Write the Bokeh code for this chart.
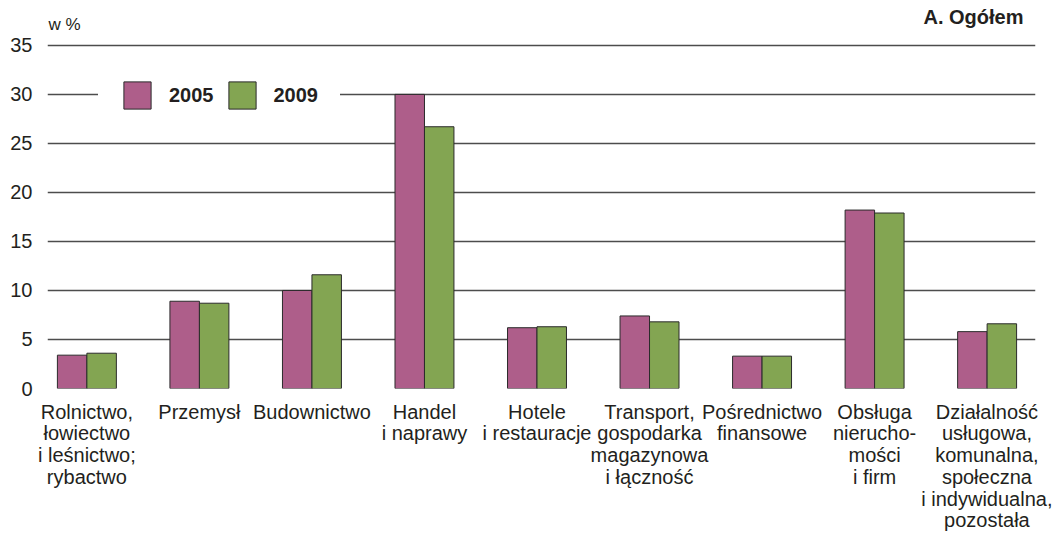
from bokeh.plotting import figure
from bokeh.models import ColumnDataSource, Range1d, FixedTicker, Legend, LegendItem, Label
from bokeh.transform import dodge
from bokeh.embed import file_html
from bokeh.resources import INLINE

categories = [
    "Rolnictwo,\nłowiectwo\ni leśnictwo;\nrybactwo",
    "Przemysł",
    "Budownictwo",
    "Handel\ni naprawy",
    "Hotele\ni restauracje",
    "Transport,\ngospodarka\nmagazynowa\ni łączność",
    "Pośrednictwo\nfinansowe",
    "Obsługa\nnierucho-\nmości\ni firm",
    "Działalność\nusługowa,\nkomunalna,\nspołeczna\ni indywidualna,\npozostała",
]
values_2005 = [3.4, 8.9, 10.0, 30.0, 6.2, 7.4, 3.3, 18.2, 5.8]
values_2009 = [3.6, 8.7, 11.6, 26.7, 6.3, 6.8, 3.3, 17.9, 6.6]
series = ["2005", "2009"]
colors = ["#AE5E8A", "#83A552"]
y_ticks = [0, 5, 10, 15, 20, 25, 30, 35]

idx = list(range(len(categories)))
src = ColumnDataSource(dict(x=idx, v2005=values_2005, v2009=values_2009))

FONT = "Liberation Sans"
TXT = "#231F20"
X0, X1 = -0.35, 8.43
Y_TOP = 38.76

p = figure(width=1052, height=534, output_backend="svg", toolbar_location=None,
           x_range=Range1d(X0, X1), y_range=Range1d(0, Y_TOP),
           min_border_left=47, min_border_right=17, min_border_top=8, min_border_bottom=145)
p.outline_line_color = None
p.background_fill_color = "white"
p.border_fill_color = "white"

bw = 0.262
r1 = p.vbar(x=dodge("x", -bw / 2, range=p.x_range), top="v2005", width=bw, source=src,
            fill_color=colors[0], line_color="#2b2b2b", line_width=1)
r2 = p.vbar(x=dodge("x", bw / 2, range=p.x_range), top="v2009", width=bw, source=src,
            fill_color=colors[1], line_color="#2b2b2b", line_width=1)

# axes
p.xaxis.ticker = FixedTicker(ticks=idx)
p.xaxis.major_label_overrides = {i: c for i, c in zip(idx, categories)}
p.xaxis.axis_line_color = None
p.xaxis.major_tick_line_color = None
p.xaxis.major_tick_out = 0
p.xaxis.major_tick_in = 0
p.xaxis.minor_tick_line_color = None
p.xaxis.major_label_text_font = FONT
p.xaxis.major_label_text_font_size = "20px"
p.xaxis.major_label_text_color = TXT
p.xaxis.major_label_text_line_height = 0.99
p.xaxis.major_label_standoff = 12

p.yaxis.ticker = FixedTicker(ticks=y_ticks)
p.yaxis.axis_line_color = None
p.yaxis.major_tick_line_color = None
p.yaxis.major_tick_out = 0
p.yaxis.major_tick_in = 0
p.yaxis.minor_tick_line_color = None
p.yaxis.major_label_text_font = FONT
p.yaxis.major_label_text_font_size = "20px"
p.yaxis.major_label_text_color = TXT
p.yaxis.major_label_standoff = 15

p.xgrid.grid_line_color = None
p.ygrid.ticker = FixedTicker(ticks=y_ticks)
p.ygrid.grid_line_color = "#4d4d4d"
p.ygrid.grid_line_width = 1.3

# legend
legend = Legend(items=[LegendItem(label=series[0], renderers=[r1]),
                       LegendItem(label=series[1], renderers=[r2])],
                orientation="horizontal", location=(51, 254),
                glyph_width=34, glyph_height=34, label_standoff=15, spacing=11,
                padding=22, margin=0,
                label_text_font=FONT, label_text_font_size="20px", label_text_font_style="bold",
                label_text_color=TXT, border_line_color="white", border_line_alpha=0.0,
                background_fill_color="white", background_fill_alpha=1.0)
p.add_layout(legend)

p.add_layout(Label(x=X0, y=35, text="w %", x_offset=1, y_offset=11,
                   text_font=FONT, text_font_size="17px", text_color=TXT,
                   text_align="left", text_baseline="bottom"))
p.add_layout(Label(x=X1, y=35, text="A. Ogółem", x_offset=-12, y_offset=17,
                   text_font=FONT, text_font_size="20px", text_font_style="bold",
                   text_color=TXT, text_align="right", text_baseline="bottom"))

open("out.html", "w").write(file_html(p, INLINE))
